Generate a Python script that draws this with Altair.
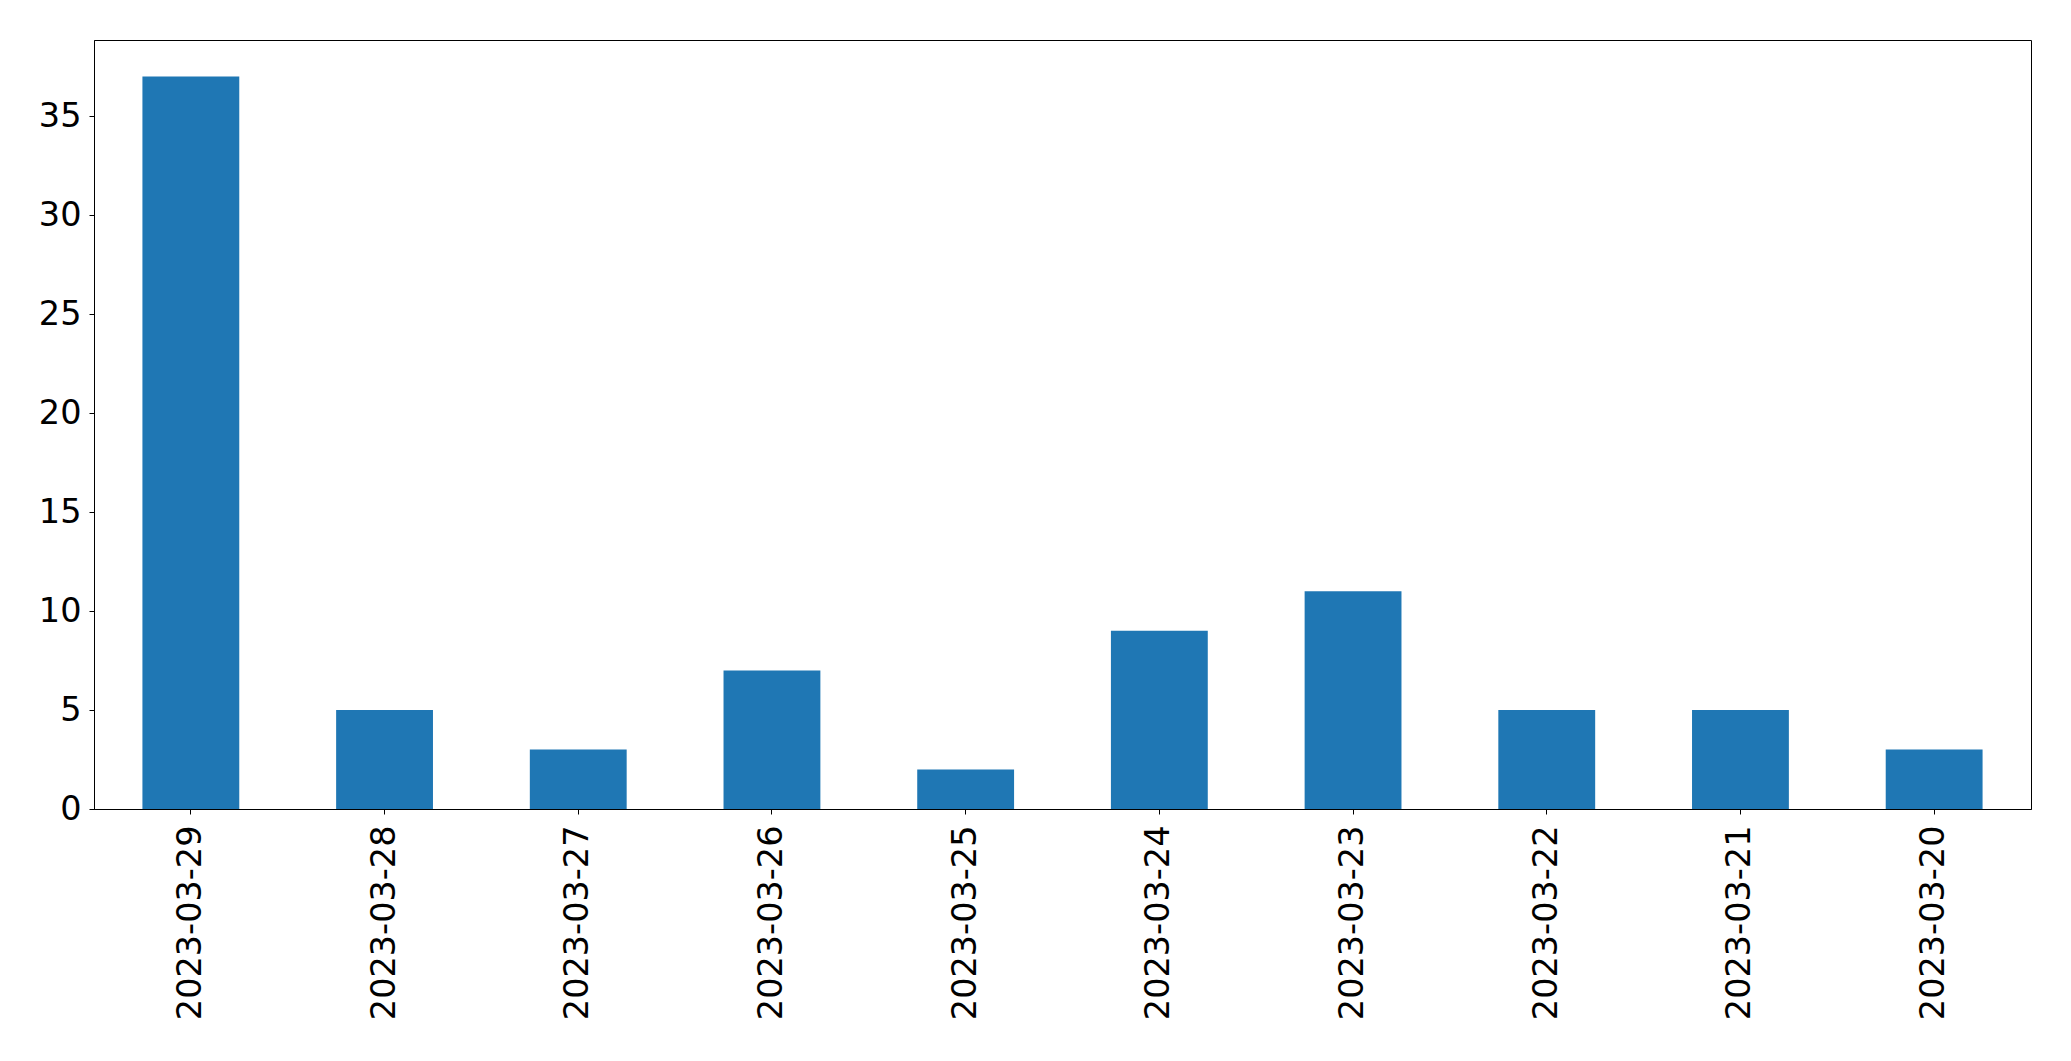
import altair as alt
import pandas as pd

dates = ["2023-03-29", "2023-03-28", "2023-03-27", "2023-03-26", "2023-03-25",
         "2023-03-24", "2023-03-23", "2023-03-22", "2023-03-21", "2023-03-20"]
counts = [37, 5, 3, 7, 2, 9, 11, 5, 5, 3]
y_ticks = [0, 5, 10, 15, 20, 25, 30, 35]

df = pd.DataFrame({"date": dates, "count": counts})

chart = alt.Chart(df).mark_bar(color="#1f77b4").encode(
    x=alt.X("date:N", sort=dates,
            scale=alt.Scale(paddingInner=0.5, paddingOuter=0.25),
            axis=alt.Axis(title=None, labelAngle=270, labelAlign="right", labelBaseline="middle",
                          labelFont="DejaVu Sans", labelFontSize=33.5, labelColor="black",
                          labelLimit=0, labelOverlap=False,
                          tickColor="black", tickSize=5, labelPadding=11,
                          domainColor="black", domainWidth=1, grid=False)),
    y=alt.Y("count:Q", scale=alt.Scale(domain=[0, 38.85], nice=False, zero=True),
            axis=alt.Axis(title=None, values=y_ticks, labelFont="DejaVu Sans", labelFontSize=33.5,
                          labelColor="black", tickColor="black", tickSize=5, labelPadding=8,
                          domainColor="black", domainWidth=1, grid=False)),
).properties(
    width=1937, height=769,
    autosize=alt.AutoSizeParams(type="none"),
    padding={"left": 86, "top": 32, "right": 30, "bottom": 220},
).configure(background="white").configure_view(stroke="black", strokeWidth=1)

chart.save("out.html", embed_options={"renderer": "svg", "actions": False})
